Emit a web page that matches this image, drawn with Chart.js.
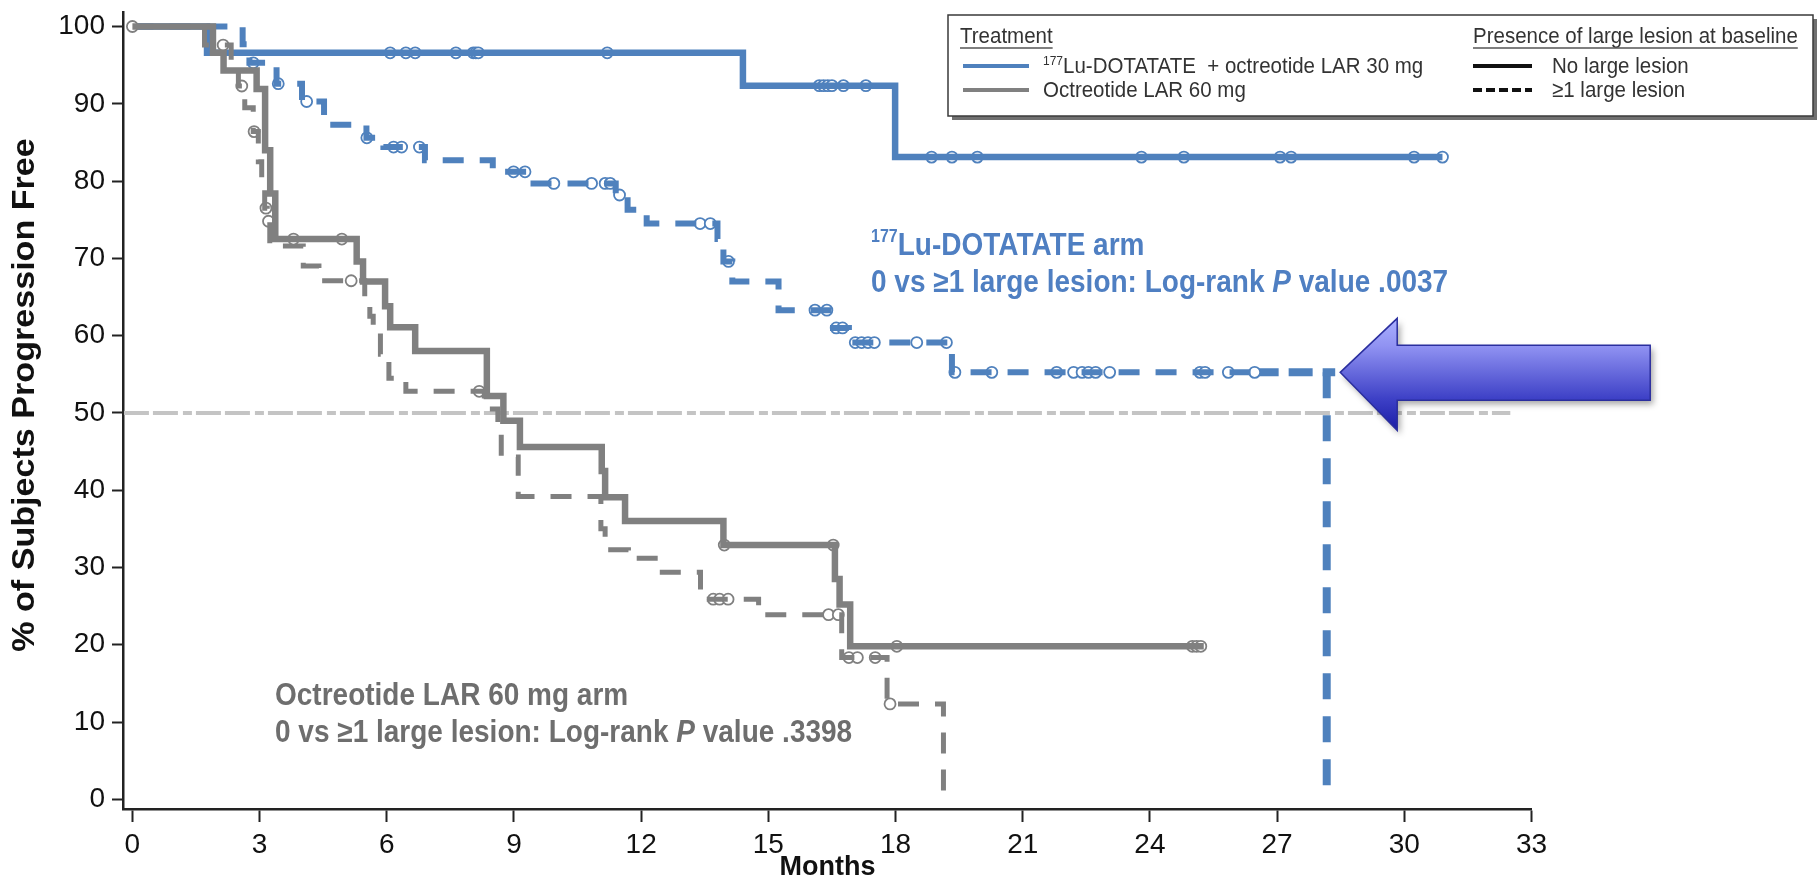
<!DOCTYPE html>
<html>
<head>
<meta charset="utf-8">
<script src="https://cdn.jsdelivr.net/npm/chart.js@4.4.1/dist/chart.umd.min.js"></script>
<style>
  html, body { margin: 0; padding: 0; background: #fff; }
</style>
</head>
<body>
<canvas id="km" width="1820" height="885"></canvas>
<script>
// axis ticks
const xTicks = [0, 3, 6, 9, 12, 15, 18, 21, 24, 27, 30, 33];
const yTicks = [0, 10, 20, 30, 40, 50, 60, 70, 80, 90, 100];

// 177Lu-DOTATATE arm, no large lesion (months, % progression free)
const luNoTime = [0, 1.76, 14.4, 17.99, 30.9];
const luNoPfs = [100, 96.6, 92.35, 83.1, 83.1];
const luNoCensor = [6.08, 6.45, 6.67, 7.63, 8.04, 8.1, 8.16, 11.2, 16.2, 16.3, 16.4, 16.5, 16.77, 17.3,
  18.85, 19.33, 19.93, 23.8, 24.8, 27.07, 27.33, 30.23, 30.9];

// 177Lu-DOTATATE arm, >=1 large lesion
const luBigTime = [0, 2.6, 2.76, 3.4, 4.0, 4.52, 5.52, 5.92, 6.9, 8.5, 9.33, 11.4, 11.68, 12.13,
  13.8, 13.94, 14.15, 15.24, 16.42, 16.9, 19.33, 26.47];
const luBigPfs = [100, 97.7, 95.3, 92.6, 90.3, 87.3, 85.6, 84.4, 82.7, 81.2, 79.7, 78.2, 76.3, 74.5,
  72.5, 69.6, 67.0, 63.3, 61.0, 59.1, 55.25, 55.25];
const luBigCensor = [2.85, 3.44, 4.11, 5.53, 6.16, 6.35, 6.77, 8.99, 9.26, 9.94, 10.83, 11.15, 11.27, 11.49,
  13.39, 13.63, 14.06, 16.1, 16.38, 16.6, 16.75, 17.05, 17.2, 17.35, 17.5, 18.5, 19.2, 19.4, 20.27,
  21.8, 22.2, 22.4, 22.55, 22.72, 23.05, 25.18, 25.3, 25.85, 26.47];

// Octreotide LAR 60 mg arm, no large lesion
const octNoTime = [0, 1.9, 2.15, 2.93, 3.13, 3.25, 3.37, 5.29, 5.44, 5.96, 6.08, 6.67, 8.36, 8.75, 9.14,
  11.07, 11.15, 11.62, 13.94, 16.57, 16.68, 16.93, 25.27];
const octNoPfs = [100, 96.6, 94.3, 91.9, 84.0, 78.4, 72.5, 69.6, 67.0, 63.8, 61.1, 58.0, 52.2, 49.0, 45.6,
  42.5, 39.1, 36.0, 32.9, 28.5, 25.2, 19.8, 19.8];
const octNoCensor = [0, 3.8, 4.94, 13.96, 16.53, 18.03, 25.0, 25.1, 25.2];

// Octreotide LAR 60 mg arm, >=1 large lesion
const octBigTime = [0, 1.7, 2.33, 2.5, 2.65, 2.85, 2.97, 3.05, 3.12, 3.18, 3.24, 4.03, 4.4, 5.48, 5.6, 5.68,
  5.85, 6.05, 6.45, 8.3, 8.62, 8.7, 9.1, 11.05, 11.15, 11.7, 12.4, 13.4, 14.77, 16.73, 17.8, 19.13];
const octBigPfs = [100, 97.6, 95.0, 92.3, 89.5, 86.4, 82.5, 79.5, 76.5, 74.8, 71.6, 69.0, 67.1, 64.5, 62.5, 60.6,
  57.6, 54.5, 52.8, 50.5, 47.2, 44.3, 39.2, 35.0, 32.3, 31.2, 29.4, 25.9, 23.9, 18.35, 12.35, 0];
const octBigCensor = [2.14, 2.58, 2.87, 3.15, 3.21, 5.16, 8.18, 13.7, 13.85, 14.05, 16.42, 16.65, 16.9, 17.1,
  17.52, 17.87];

// median marker for the Lu-DOTATATE >=1 large lesion curve, and the 50% reference
const medianLevel = 55.25;
const medianTail = [26.47, 28.37];
const medianX = 28.17;
const refLevel = 50;
const refRange = [-0.2, 32.5];

const BLUE = '#4f81bd';
const GRAY = '#808080';
const FONT = '"Liberation Sans", Arial, sans-serif';
const SY = 1.1; // the original text is drawn a little taller than wide

function survAt(times, pfs, t) {
  let v = pfs[0];
  for (let i = 0; i < times.length; i++) if (times[i] <= t) v = pfs[i];
  return v;
}
const toPoints = (times, pfs) => times.map((t, i) => ({ x: t, y: pfs[i] }));

function kmLine(label, times, pfs, color, width, dash, order) {
  // horizontal first, then the drop at the event time
  return { label, data: toPoints(times, pfs), borderColor: color, borderWidth: width, borderDash: dash,
    stepped: 'before', pointRadius: 0, fill: false, order };
}
function censorSet(label, times, pfs, cens, color, order) {
  return { label, data: cens.map(t => ({ x: t, y: survAt(times, pfs, t) })), showLine: false,
    pointStyle: 'circle', pointRadius: 5.5, pointBorderWidth: 1.8, pointBorderColor: color,
    pointBackgroundColor: '#fff', order };
}

function drawRuns(ctx, runs, x, y, color) {
  ctx.save();
  ctx.translate(x, y);
  ctx.scale(1, SY);
  ctx.fillStyle = color;
  ctx.textBaseline = 'alphabetic';
  ctx.textAlign = 'left';
  let cx = 0;
  runs.forEach(r => {
    ctx.font = r.font;
    ctx.fillText(r.text, cx, -(r.raise || 0) / SY);
    cx += ctx.measureText(r.text).width;
  });
  ctx.restore();
}

const extras = {
  id: 'extras',
  afterDraw(chart) {
    const ctx = chart.ctx;
    const xs = chart.scales.x, ys = chart.scales.y;
    const big = 'bold 28px ' + FONT, bigI = 'italic bold 28px ' + FONT;

    // y axis title
    ctx.save();
    ctx.translate(25.5, 395);
    ctx.rotate(-Math.PI / 2);
    ctx.scale(SY, 1);
    ctx.font = 'bold 31px ' + FONT;
    ctx.fillStyle = '#111';
    ctx.textAlign = 'center';
    ctx.textBaseline = 'middle';
    ctx.fillText('% of Subjects Progression Free', 0, 0);
    ctx.restore();

    // arm annotations
    drawRuns(ctx, [{ text: '177', font: 'bold 16px ' + FONT, raise: 13 }, { text: 'Lu-DOTATATE arm', font: big }],
      871, 255, '#4f7fc2');
    drawRuns(ctx, [{ text: '0 vs \u22651 large lesion: Log-rank ', font: big }, { text: 'P', font: bigI },
      { text: ' value .0037', font: big }], 871, 292, '#4f7fc2');
    drawRuns(ctx, [{ text: 'Octreotide LAR 60 mg arm', font: big }], 275, 705, '#6e6e6e');
    drawRuns(ctx, [{ text: '0 vs \u22651 large lesion: Log-rank ', font: big }, { text: 'P', font: bigI },
      { text: ' value .3398', font: big }], 275, 742, '#6e6e6e');

    // legend box
    const lf = '20.5px ' + FONT;
    ctx.save();
    ctx.fillStyle = '#707070';
    ctx.fillRect(952, 19, 865, 101);
    ctx.fillStyle = '#fff';
    ctx.fillRect(948, 15, 865, 101);
    ctx.strokeStyle = '#3a3a3a';
    ctx.lineWidth = 1.5;
    ctx.strokeRect(948, 15, 865, 101);
    ctx.font = lf;
    const w1 = ctx.measureText('Treatment').width;
    const w2 = ctx.measureText('Presence of large lesion at baseline').width;
    ctx.restore();
    drawRuns(ctx, [{ text: 'Treatment', font: lf }], 960, 43, '#333');
    drawRuns(ctx, [{ text: 'Presence of large lesion at baseline', font: lf }], 1473, 43, '#333');
    ctx.save();
    ctx.strokeStyle = '#555';
    ctx.lineWidth = 1.5;
    ctx.beginPath();
    ctx.moveTo(960, 48); ctx.lineTo(960 + w1, 48);
    ctx.moveTo(1473, 48); ctx.lineTo(1473 + w2, 48);
    ctx.stroke();
    const sample = (x0, x1, y, color, dash) => {
      ctx.beginPath();
      ctx.setLineDash(dash);
      ctx.strokeStyle = color;
      ctx.lineWidth = 4;
      ctx.moveTo(x0, y); ctx.lineTo(x1, y);
      ctx.stroke();
    };
    sample(963, 1029, 66, BLUE, []);
    sample(963, 1029, 90, GRAY, []);
    sample(1473, 1532, 66, '#111', []);
    sample(1473, 1532, 90, '#111', [9, 4]);
    ctx.restore();
    drawRuns(ctx, [{ text: '177', font: '12px ' + FONT, raise: 8 },
      { text: 'Lu-DOTATATE  + octreotide LAR 30 mg', font: lf }], 1043, 73, '#333');
    drawRuns(ctx, [{ text: 'Octreotide LAR 60 mg', font: lf }], 1043, 97, '#333');
    drawRuns(ctx, [{ text: 'No large lesion', font: lf }], 1552, 73, '#333');
    drawRuns(ctx, [{ text: '\u22651 large lesion', font: lf }], 1552, 97, '#333');

    // arrow pointing at the median
    const tx = xs.getPixelForValue(medianTail[1]) + 5;
    const ty = ys.getPixelForValue(medianLevel);
    ctx.save();
    ctx.beginPath();
    ctx.moveTo(tx, ty);
    ctx.lineTo(tx + 57, ty - 54);
    ctx.lineTo(tx + 57, ty - 27);
    ctx.lineTo(tx + 310, ty - 27);
    ctx.lineTo(tx + 310, ty + 28);
    ctx.lineTo(tx + 57, ty + 28);
    ctx.lineTo(tx + 57, ty + 58);
    ctx.closePath();
    const g = ctx.createLinearGradient(0, ty - 54, 0, ty + 58);
    g.addColorStop(0, '#aab0ff');
    g.addColorStop(0.25, '#9092f2');
    g.addColorStop(0.72, '#3d40c6');
    g.addColorStop(1, '#1a1ca6');
    ctx.shadowColor = 'rgba(0,0,0,0.35)';
    ctx.shadowBlur = 6;
    ctx.shadowOffsetX = 3;
    ctx.shadowOffsetY = 4;
    ctx.fillStyle = g;
    ctx.fill();
    ctx.shadowColor = 'transparent';
    ctx.strokeStyle = '#2a2e9e';
    ctx.lineWidth = 1.5;
    ctx.stroke();
    ctx.restore();
  }
};

new Chart(document.getElementById('km'), {
  type: 'line',
  data: {
    datasets: [
      kmLine('Octreotide LAR 60 mg, no large lesion', octNoTime, octNoPfs, GRAY, 6.5, [], 1),
      censorSet('censored', octNoTime, octNoPfs, octNoCensor, GRAY, 2),
      kmLine('Octreotide LAR 60 mg, \u22651 large lesion', octBigTime, octBigPfs, GRAY, 5, [21, 16], 3),
      censorSet('censored', octBigTime, octBigPfs, octBigCensor, GRAY, 4),
      kmLine('177Lu-DOTATATE, no large lesion', luNoTime, luNoPfs, BLUE, 6.5, [], 5),
      censorSet('censored', luNoTime, luNoPfs, luNoCensor, BLUE, 6),
      kmLine('177Lu-DOTATATE, \u22651 large lesion', luBigTime, luBigPfs, BLUE, 6, [21, 16], 7),
      censorSet('censored', luBigTime, luBigPfs, luBigCensor, BLUE, 8),
      { label: 'median', data: medianTail.map(x => ({ x, y: medianLevel })), borderColor: BLUE,
        borderWidth: 8, borderDash: [24, 10], pointRadius: 0, order: 9 },
      { label: 'median drop', data: [{ x: medianX, y: medianLevel }, { x: medianX, y: 0 }], borderColor: BLUE,
        borderWidth: 8, borderDash: [26, 17], pointRadius: 0, order: 9 },
      { label: '50%', data: refRange.map(x => ({ x, y: refLevel })), borderColor: '#c4c4c4',
        borderWidth: 4, borderDash: [25, 4, 25, 5, 9, 4], pointRadius: 0, order: 10 }
    ]
  },
  options: {
    responsive: false,
    animation: false,
    events: [],
    layout: { padding: { top: 8, right: 288.5, left: 0, bottom: 0 } },
    plugins: { legend: { display: false }, tooltip: { enabled: false } },
    scales: {
      x: {
        type: 'linear', min: -0.21, max: 33,
        afterBuildTicks: s => { s.ticks = xTicks.map(v => ({ value: v })); },
        afterFit: s => { s.height = 76; },
        grid: { drawOnChartArea: false, drawTicks: true, tickLength: 13, tickWidth: 2, tickColor: '#222' },
        border: { color: '#222', width: 2.5 },
        ticks: { color: '#111', padding: 6, font: { family: FONT, size: 28 }, maxRotation: 0 },
        title: { display: true, text: 'Months', color: '#111', font: { family: FONT, size: 27, weight: 'bold' },
          padding: { top: 0, bottom: 1 } }
      },
      y: {
        type: 'linear', min: -1.25, max: 101.8,
        afterBuildTicks: s => { s.ticks = yTicks.map(v => ({ value: v })); },
        afterFit: s => { s.width = 123.5; },
        grid: { drawOnChartArea: false, drawTicks: true, tickLength: 11.5, tickWidth: 2, tickColor: '#222' },
        border: { color: '#222', width: 2.5 },
        // small lineHeight keeps the top label from pushing the plot area down
        ticks: { color: '#111', padding: 7, font: { family: FONT, size: 28, lineHeight: 0.4 } }
      }
    }
  },
  plugins: [extras]
});
</script>
</body>
</html>
